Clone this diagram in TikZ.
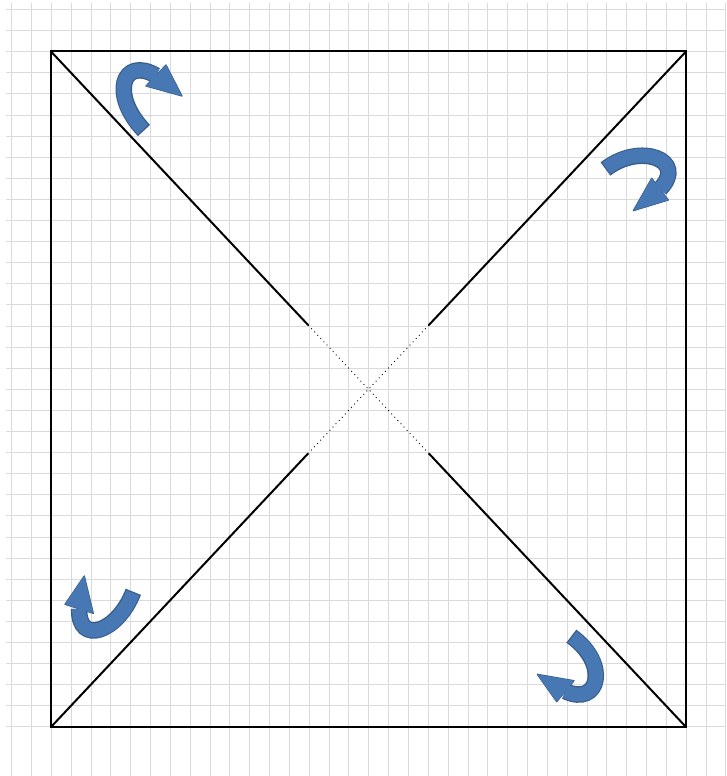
\documentclass[tikz,border=0pt]{standalone}
\usepackage{xcolor}
\usepackage{tikz}
\usetikzlibrary{calc}
\definecolor{GridGray}{HTML}{D9DADB}
\definecolor{ArrowBlue}{HTML}{4878B4}
\definecolor{ArrowEdge}{HTML}{385D8A}

\tikzset{
  gridline/.style={GridGray,line width=1.3pt},
  frameline/.style={black,line width=2pt},
  dotline/.style={black,line width=0.9pt,dash pattern=on 0.9pt off 3.6pt},
  bandout/.style={ArrowEdge,line width=16.5pt},
  bandin/.style={ArrowBlue,line width=14pt,shorten <=1.3pt},
  headout/.style={fill=ArrowEdge,draw=ArrowEdge,line width=1.3pt,line join=round},
}

% #1 tail, #2 #3 controls, #4 head base, #5 #6 head corners, #7 tip
\newcommand{\turnarrow}[7]{%
  \draw[bandout] #1 .. controls #2 and #3 .. #4;
  \path[headout] #5 -- #7 -- #6 -- cycle;
  \draw[bandin] #1 .. controls #2 and #3 .. #4;
  \fill[ArrowBlue] #5 -- #7 -- #6 -- cycle;
}

\begin{document}
\begin{tikzpicture}[x=1pt,y=-1pt]
  \useasboundingbox (0,0) rectangle (726,776);
  % sheet grid
  \foreach \i in {0,...,36}
    \draw[gridline] ({int(11.7+19.84*\i)+0.5},3) -- ({int(11.7+19.84*\i)+0.5},776);
  \foreach \j in {0,...,34}
    \draw[gridline] (6,{int(9.5+21.1*\j)+0.5}) -- (726,{int(9.5+21.1*\j)+0.5});

  \coordinate (NW) at (51,51.5);
  \coordinate (NE) at (686,51.5);
  \coordinate (SE) at (686,727);
  \coordinate (SW) at (51,727);
  \draw[frameline] (NW) rectangle (SE);

  % diagonals, dotted through the middle
  \coordinate (a1) at ($(NW)!0.405!(SE)$);
  \coordinate (a2) at ($(NW)!0.595!(SE)$);
  \coordinate (b1) at ($(NE)!0.405!(SW)$);
  \coordinate (b2) at ($(NE)!0.595!(SW)$);
  \draw[frameline] (NW) -- (a1);
  \draw[dotline] (a1) -- (a2);
  \draw[frameline] (a2) -- (SE);
  \draw[frameline] (NE) -- (b1);
  \draw[dotline] (b1) -- (b2);
  \draw[frameline] (b2) -- (SW);

  % turning arrows
  \turnarrow{(144,130.5)}{(110,95)}{(122,56)}{(156,75.5)}{(166,65)}{(146,86)}{(182,96)}
  \turnarrow{(605.5,169)}{(640,142)}{(688,160)}{(660,189)}{(651.7,178.3)}{(668.3,200)}{(633.3,210.7)}
  \turnarrow{(133.3,591.8)}{(118,632)}{(78,646)}{(79.2,608.8)}{(65,604.3)}{(93.3,613.3)}{(84.3,576)}
  \turnarrow{(571.3,636.2)}{(610,664)}{(599,707)}{(565.3,691.2)}{(574,680.7)}{(556.7,701.7)}{(537.3,674.3)}
\end{tikzpicture}
\end{document}
